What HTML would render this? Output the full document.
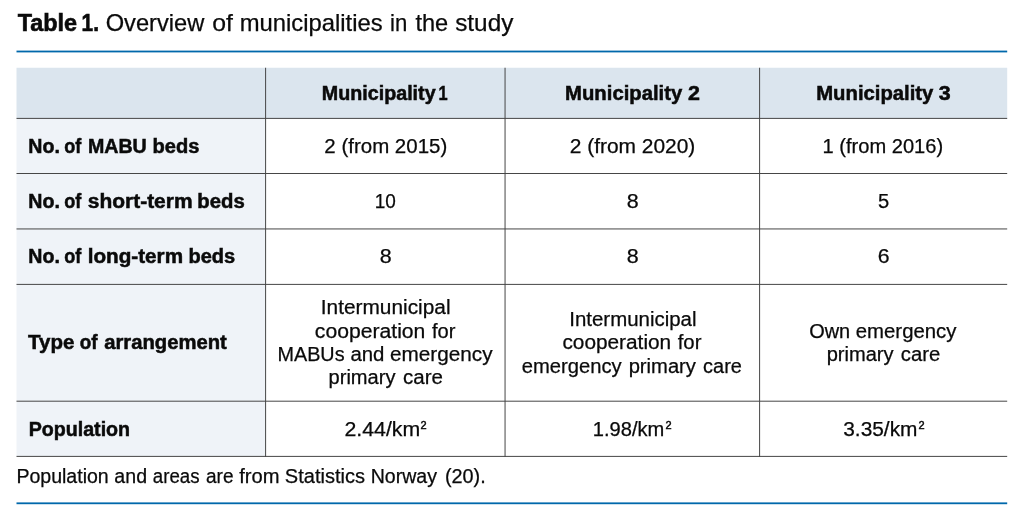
<!DOCTYPE html>
<html lang="en">
<head>
<meta charset="utf-8">
<title>Table 1. Overview of municipalities in the study</title>
<style>
html,body{margin:0;padding:0;background:#fff}
body{width:1024px;height:520px;position:relative;overflow:hidden;font-family:"Liberation Sans",Arial,sans-serif;color:#0a0a0a}
#grid{position:absolute;left:0;top:0}
h1,p,.th,.rh,.td{margin:0;padding:0;font-size:inherit;font-weight:inherit}
.t{position:absolute;white-space:pre;margin:0;padding:0;font-weight:400;transform-origin:0 0;-webkit-text-stroke:0.25px #0a0a0a}
sup.t{-webkit-text-stroke:0.45px #0a0a0a}
.b{font-weight:700;-webkit-text-stroke:0.5px #0a0a0a}
h1 .b{-webkit-text-stroke:0.6px #0a0a0a}
</style>
</head>
<body>
<svg id="grid" width="1024" height="520" viewBox="0 0 1024 520" aria-hidden="true">
<rect x="16.5" y="50.6" width="990.7" height="1.8" fill="#0068ab"/>
<rect x="16.5" y="502.4" width="990.7" height="1.8" fill="#0068ab"/>
<rect x="16.5" y="67.75" width="990.7" height="50.65" fill="#dbe5ee"/>
<rect x="16.5" y="118.4" width="249.1" height="338.0" fill="#eff3f8"/>
<line x1="16.5" y1="118.4" x2="1007.2" y2="118.4" stroke="#464646" stroke-width="1"/>
<line x1="16.5" y1="173.5" x2="1007.2" y2="173.5" stroke="#464646" stroke-width="1"/>
<line x1="16.5" y1="228.95" x2="1007.2" y2="228.95" stroke="#464646" stroke-width="1"/>
<line x1="16.5" y1="284.4" x2="1007.2" y2="284.4" stroke="#464646" stroke-width="1"/>
<line x1="16.5" y1="401.2" x2="1007.2" y2="401.2" stroke="#464646" stroke-width="1"/>
<line x1="16.5" y1="456.4" x2="1007.2" y2="456.4" stroke="#464646" stroke-width="1"/>
<line x1="265.6" y1="67.75" x2="265.6" y2="456.9" stroke="#464646" stroke-width="1"/>
<line x1="505.05" y1="67.75" x2="505.05" y2="456.9" stroke="#464646" stroke-width="1"/>
<line x1="759.6" y1="67.75" x2="759.6" y2="456.9" stroke="#464646" stroke-width="1"/>
</svg>
<h1 class="title">
<span class="t b" id="i0" style="left:17px;top:10px;font-size:23.4px;line-height:26px;transform:translateX(0.64px) scaleX(1.0000)">Table </span>
<span class="t b" id="i1" style="left:81px;top:10px;font-size:23.4px;line-height:26px;transform:translateX(0.62px) scaleX(0.8908)">1. </span>
<span class="t" id="i2" style="left:105px;top:10px;font-size:23.4px;line-height:26px;transform:translateX(0.70px) scaleX(1.0120)">Overview </span>
<span class="t" id="i3" style="left:212px;top:10px;font-size:23.4px;line-height:26px;transform:translateX(0.13px) scaleX(1.0589)">of </span>
<span class="t" id="i4" style="left:239px;top:10px;font-size:23.4px;line-height:26px;transform:translateX(0.64px) scaleX(1.0186)">municipalities </span>
<span class="t" id="i5" style="left:390px;top:10px;font-size:23.4px;line-height:26px;transform:translateX(0.06px) scaleX(0.9474)">in </span>
<span class="t" id="i6" style="left:415px;top:10px;font-size:23.4px;line-height:26px;transform:translateX(0.40px) scaleX(1.0090)">the </span>
<span class="t" id="i7" style="left:455px;top:10px;font-size:23.4px;line-height:26px;transform:translateX(0.20px) scaleX(1.0401)">study</span>
</h1>
<div class="th">
<span class="t b" id="i8" style="left:321px;top:82px;font-size:19.5px;line-height:22px;transform:translateX(0.82px) scaleX(1.0096)">Municipality </span>
<span class="t b" id="i9" style="left:438px;top:82px;font-size:19.5px;line-height:22px;transform:translateX(0.59px) scaleX(0.8400)">1</span>
</div>
<div class="th">
<span class="t b" id="i10" style="left:565px;top:82px;font-size:19.5px;line-height:22px;transform:translateX(0.07px) scaleX(1.0401)">Municipality </span>
<span class="t b" id="i11" style="left:688px;top:82px;font-size:19.5px;line-height:22px;transform:translateX(0.07px) scaleX(1.1000)">2</span>
</div>
<div class="th">
<span class="t b" id="i12" style="left:816px;top:82px;font-size:19.5px;line-height:22px;transform:translateX(0.21px) scaleX(1.0400)">Municipality </span>
<span class="t b" id="i13" style="left:938px;top:82px;font-size:19.5px;line-height:22px;transform:translateX(0.67px) scaleX(1.1000)">3</span>
</div>
<div class="rh">
<span class="t b" id="i14" style="left:28px;top:135px;font-size:19.5px;line-height:22px;transform:translateX(0.35px) scaleX(1.0051)">No. </span>
<span class="t b" id="i15" style="left:64px;top:135px;font-size:19.5px;line-height:22px;transform:translateX(0.26px) scaleX(0.9248)">of </span>
<span class="t b" id="i16" style="left:87px;top:135px;font-size:19.5px;line-height:22px;transform:translateX(0.90px) scaleX(1.0068)">MABU </span>
<span class="t b" id="i17" style="left:152px;top:135px;font-size:19.5px;line-height:22px;transform:translateX(0.51px) scaleX(1.0301)">beds</span>
</div>
<div class="td">
<span class="t" id="i18" style="left:324px;top:135px;font-size:19.5px;line-height:22px;transform:translateX(0.36px) scaleX(1.0497)">2 (from 2015)</span>
</div>
<div class="td">
<span class="t" id="i19" style="left:569px;top:135px;font-size:19.5px;line-height:22px;transform:translateX(0.71px) scaleX(1.0729)">2 (from 2020)</span>
</div>
<div class="td">
<span class="t" id="i20" style="left:822px;top:135px;font-size:19.5px;line-height:22px;transform:translateX(0.53px) scaleX(1.0302)">1 (from 2016)</span>
</div>
<div class="rh">
<span class="t b" id="i21" style="left:28px;top:190px;font-size:19.5px;line-height:22px;transform:translateX(0.35px) scaleX(1.0051)">No. </span>
<span class="t b" id="i22" style="left:64px;top:190px;font-size:19.5px;line-height:22px;transform:translateX(0.26px) scaleX(0.9248)">of </span>
<span class="t b" id="i23" style="left:87px;top:190px;font-size:19.5px;line-height:22px;transform:translateX(0.81px) scaleX(1.0739)">short-term </span>
<span class="t b" id="i24" style="left:197px;top:190px;font-size:19.5px;line-height:22px;transform:translateX(0.33px) scaleX(1.0415)">beds</span>
</div>
<div class="td">
<span class="t" id="i25" style="left:374px;top:190px;font-size:19.5px;line-height:22px;transform:translateX(0.81px) scaleX(0.9740)">10</span>
</div>
<div class="td">
<span class="t" id="i26" style="left:626px;top:190px;font-size:19.5px;line-height:22px;transform:translateX(0.71px) scaleX(1.1000)">8</span>
</div>
<div class="td">
<span class="t" id="i27" style="left:877px;top:190px;font-size:19.5px;line-height:22px;transform:translateX(0.96px) scaleX(1.0327)">5</span>
</div>
<div class="rh">
<span class="t b" id="i28" style="left:28px;top:245px;font-size:19.5px;line-height:22px;transform:translateX(0.35px) scaleX(1.0051)">No. </span>
<span class="t b" id="i29" style="left:64px;top:245px;font-size:19.5px;line-height:22px;transform:translateX(0.26px) scaleX(0.9248)">of </span>
<span class="t b" id="i30" style="left:87px;top:245px;font-size:19.5px;line-height:22px;transform:translateX(0.64px) scaleX(1.0610)">long-term </span>
<span class="t b" id="i31" style="left:188px;top:245px;font-size:19.5px;line-height:22px;transform:translateX(0.44px) scaleX(1.0277)">beds</span>
</div>
<div class="td">
<span class="t" id="i32" style="left:379px;top:245px;font-size:19.5px;line-height:22px;transform:translateX(0.70px) scaleX(1.1000)">8</span>
</div>
<div class="td">
<span class="t" id="i33" style="left:626px;top:245px;font-size:19.5px;line-height:22px;transform:translateX(0.71px) scaleX(1.1000)">8</span>
</div>
<div class="td">
<span class="t" id="i34" style="left:877px;top:245px;font-size:19.5px;line-height:22px;transform:translateX(0.80px) scaleX(1.0899)">6</span>
</div>
<div class="rh">
<span class="t b" id="i35" style="left:27px;top:331px;font-size:19.5px;line-height:22px;transform:translateX(0.97px) scaleX(1.0518)">Type </span>
<span class="t b" id="i36" style="left:79px;top:331px;font-size:19.5px;line-height:22px;transform:translateX(0.84px) scaleX(0.9649)">of </span>
<span class="t b" id="i37" style="left:104px;top:331px;font-size:19.5px;line-height:22px;transform:translateX(0.21px) scaleX(1.0382)">arrangement</span>
</div>
<div class="td">
<span class="t" id="i38" style="left:320px;top:296px;font-size:19.5px;line-height:22px;transform:translateX(0.82px) scaleX(1.0685)">Intermunicipal </span>
<span class="t" id="i39" style="left:314px;top:320px;font-size:19.5px;line-height:22px;transform:translateX(0.85px) scaleX(1.0842)">cooperation </span>
<span class="t" id="i40" style="left:431px;top:320px;font-size:19.5px;line-height:22px;transform:translateX(0.97px) scaleX(1.0300)">for </span>
<span class="t" id="i41" style="left:277px;top:343px;font-size:19.5px;line-height:22px;transform:translateX(0.47px) scaleX(1.0147)">MABUs </span>
<span class="t" id="i42" style="left:350px;top:343px;font-size:19.5px;line-height:22px;transform:translateX(0.41px) scaleX(1.0461)">and </span>
<span class="t" id="i43" style="left:390px;top:343px;font-size:19.5px;line-height:22px;transform:translateX(0.04px) scaleX(1.0624)">emergency </span>
<span class="t" id="i44" style="left:328px;top:366px;font-size:19.5px;line-height:22px;transform:translateX(0.56px) scaleX(1.0297)">primary </span>
<span class="t" id="i45" style="left:403px;top:366px;font-size:19.5px;line-height:22px;transform:translateX(0.00px) scaleX(1.0516)">care</span>
</div>
<div class="td">
<span class="t" id="i46" style="left:569px;top:308px;font-size:19.5px;line-height:22px;transform:translateX(0.27px) scaleX(1.0481)">Intermunicipal </span>
<span class="t" id="i47" style="left:562px;top:331px;font-size:19.5px;line-height:22px;transform:translateX(0.40px) scaleX(1.0672)">cooperation </span>
<span class="t" id="i48" style="left:677px;top:331px;font-size:19.5px;line-height:22px;transform:translateX(0.67px) scaleX(1.0432)">for </span>
<span class="t" id="i49" style="left:521px;top:355px;font-size:19.5px;line-height:22px;transform:translateX(0.78px) scaleX(1.0347)">emergency </span>
<span class="t" id="i50" style="left:628px;top:355px;font-size:19.5px;line-height:22px;transform:translateX(0.65px) scaleX(1.0349)">primary </span>
<span class="t" id="i51" style="left:703px;top:355px;font-size:19.5px;line-height:22px;transform:translateX(0.10px) scaleX(1.0236)">care</span>
</div>
<div class="td">
<span class="t" id="i52" style="left:809px;top:320px;font-size:19.5px;line-height:22px;transform:translateX(0.15px) scaleX(1.0223)">Own </span>
<span class="t" id="i53" style="left:855px;top:320px;font-size:19.5px;line-height:22px;transform:translateX(0.74px) scaleX(1.0444)">emergency </span>
<span class="t" id="i54" style="left:826px;top:343px;font-size:19.5px;line-height:22px;transform:translateX(0.68px) scaleX(1.0292)">primary </span>
<span class="t" id="i55" style="left:900px;top:343px;font-size:19.5px;line-height:22px;transform:translateX(0.82px) scaleX(1.0415)">care</span>
</div>
<div class="rh">
<span class="t b" id="i56" style="left:28px;top:418px;font-size:19.5px;line-height:22px;transform:translateX(0.66px) scaleX(1.0071)">Population</span>
</div>
<div class="td">
<span class="t" id="i57" style="left:344px;top:418px;font-size:19.5px;line-height:22px;transform:translateX(0.42px) scaleX(1.0923)">2.44/km</span>
<sup class="t" id="i58" style="left:420px;top:419px;font-size:11.0px;line-height:12px;transform:translateX(0.62px) scaleX(1.0000)">2</sup>
</div>
<div class="td">
<span class="t" id="i59" style="left:592px;top:418px;font-size:19.5px;line-height:22px;transform:translateX(0.85px) scaleX(1.0308)">1.98/km</span>
<sup class="t" id="i60" style="left:665px;top:419px;font-size:11.0px;line-height:12px;transform:translateX(0.56px) scaleX(1.0000)">2</sup>
</div>
<div class="td">
<span class="t" id="i61" style="left:843px;top:418px;font-size:19.5px;line-height:22px;transform:translateX(0.22px) scaleX(1.0705)">3.35/km</span>
<sup class="t" id="i62" style="left:918px;top:419px;font-size:11.0px;line-height:12px;transform:translateX(0.41px) scaleX(1.0000)">2</sup>
</div>
<p class="note">
<span class="t" id="i63" style="left:16px;top:465px;font-size:19.5px;line-height:22px;transform:translateX(0.39px) scaleX(1.0020)">Population </span>
<span class="t" id="i64" style="left:114px;top:465px;font-size:19.5px;line-height:22px;transform:translateX(0.34px) scaleX(1.0052)">and </span>
<span class="t" id="i65" style="left:152px;top:465px;font-size:19.5px;line-height:22px;transform:translateX(0.82px) scaleX(0.9583)">areas </span>
<span class="t" id="i66" style="left:205px;top:465px;font-size:19.5px;line-height:22px;transform:translateX(0.98px) scaleX(0.9757)">are </span>
<span class="t" id="i67" style="left:239px;top:465px;font-size:19.5px;line-height:22px;transform:translateX(0.15px) scaleX(1.0345)">from </span>
<span class="t" id="i68" style="left:284px;top:465px;font-size:19.5px;line-height:22px;transform:translateX(0.86px) scaleX(1.0266)">Statistics </span>
<span class="t" id="i69" style="left:370px;top:465px;font-size:19.5px;line-height:22px;transform:translateX(0.63px) scaleX(1.0030)">Norway </span>
<span class="t" id="i70" style="left:444px;top:465px;font-size:19.5px;line-height:22px;transform:translateX(0.90px) scaleX(1.0173)">(20).</span>
</p>
</body>
</html>
